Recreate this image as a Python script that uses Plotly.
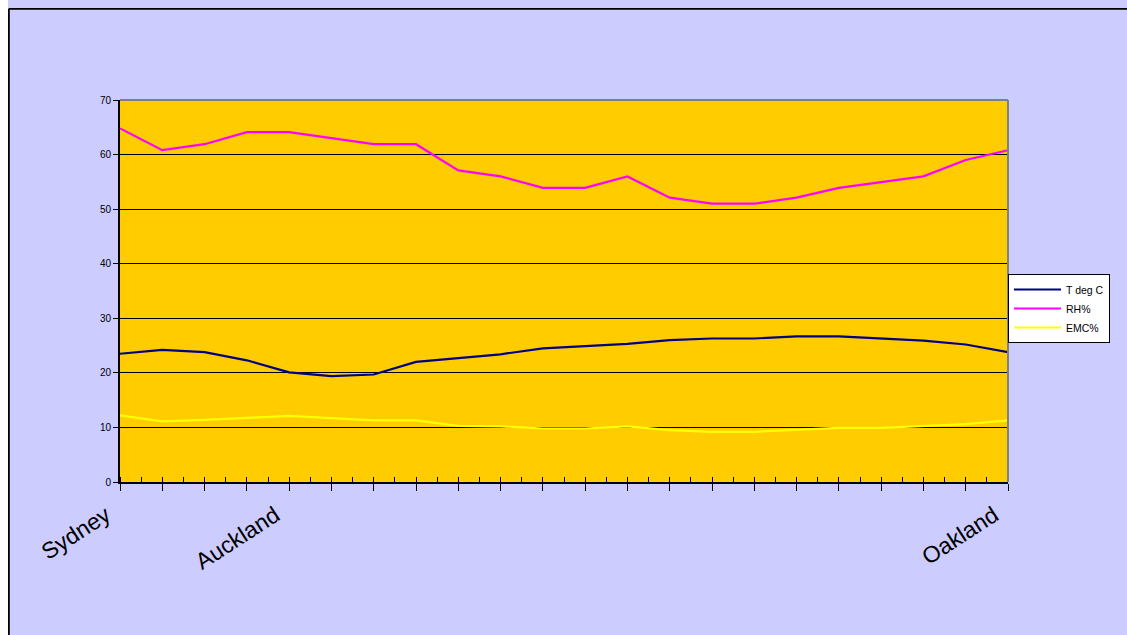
import plotly.graph_objects as go

# Data (22 stations along route)
labels = ["Sydney", "", "", "", "Auckland", "", "", "", "", "", "", "",
          "", "", "", "", "", "", "", "", "", "Oakland"]
t_deg_c = [23.5, 24.2, 23.8, 22.3, 20.1, 19.4, 19.7, 22.0, 22.7, 23.4, 24.5,
           24.9, 25.3, 26.0, 26.3, 26.3, 26.7, 26.7, 26.3, 25.9, 25.2, 23.8]
rh_pct = [64.8, 60.8, 61.9, 64.1, 64.1, 63.0, 61.9, 61.9, 57.1, 56.0, 53.9,
          53.9, 56.0, 52.1, 51.0, 51.0, 52.1, 53.9, 55.0, 56.0, 59.0, 60.8]
emc_pct = [12.2, 11.1, 11.4, 11.8, 12.1, 11.7, 11.3, 11.3, 10.3, 10.2, 9.8,
           9.8, 10.2, 9.5, 9.2, 9.2, 9.5, 9.9, 9.9, 10.2, 10.6, 11.3]
y_ticks = [0, 10, 20, 30, 40, 50, 60, 70]

x = list(range(len(labels)))

fig = go.Figure()
fig.add_trace(go.Scatter(x=x, y=t_deg_c, mode="lines", name="T deg C",
                         line=dict(color="#000080", width=2.2)))
fig.add_trace(go.Scatter(x=x, y=rh_pct, mode="lines", name="RH%",
                         line=dict(color="#FF00FF", width=2.2)))
fig.add_trace(go.Scatter(x=x, y=emc_pct, mode="lines", name="EMC%",
                         line=dict(color="#FFFF00", width=2.2)))

W, H = 1119, 627
L, R, T, B = 112, 119, 92, 153
pw, ph = W - L - R, H - T - B

def px_x(v):
    return (v - L) / pw

def px_y(v):
    return (H - B - v) / ph

shapes = [
    dict(type="line", xref="paper", yref="paper", layer="above",
         x0=px_x(0.8), x1=px_x(W + 5), y0=px_y(0.8), y1=px_y(0.8),
         line=dict(color="black", width=2)),
    dict(type="line", xref="paper", yref="paper", layer="above",
         x0=px_x(0.8), x1=px_x(0.8), y0=px_y(H + 5), y1=px_y(0.8),
         line=dict(color="black", width=2)),
    dict(type="line", xref="paper", yref="paper", x0=0, x1=1, y0=1, y1=1,
         line=dict(color="#808080", width=2)),
    dict(type="line", xref="paper", yref="paper", x0=1, x1=1, y0=0, y1=1,
         line=dict(color="#808080", width=2)),
]

fig.update_layout(
    width=W, height=H,
    margin=dict(l=L, r=R, t=T, b=B),
    paper_bgcolor="#CCCCFF",
    plot_bgcolor="#FFCC00",
    font=dict(family="Arial, Liberation Sans, sans-serif", color="black"),
    shapes=shapes,
    showlegend=True,
    legend=dict(x=1.0, xanchor="left", y=px_y(266), yanchor="top",
                bgcolor="white", bordercolor="black", borderwidth=1,
                itemwidth=47,
                font=dict(size=10.5, family="Arial, Liberation Sans, sans-serif"),
                tracegroupgap=0),
    xaxis=dict(range=[0, len(labels) - 1], tickmode="array", tickvals=x,
               ticktext=labels, tickangle=-33,
               tickfont=dict(size=23, family="Arial, Liberation Sans, sans-serif"),
               ticks="outside", ticklen=7, tickcolor="black", tickwidth=1,
               ticklabelshift=-14, ticklabelstandoff=2,
               showline=True, linecolor="black", linewidth=2,
               showgrid=False, zeroline=False,
               minor=dict(ticks="inside", ticklen=5, tickcolor="black",
                          tickwidth=1, dtick=0.5, tick0=0, showgrid=False)),
    yaxis=dict(range=[0, 70], tickmode="array", tickvals=y_ticks,
               tickfont=dict(size=10, family="Arial, Liberation Sans, sans-serif"),
               ticks="outside", ticklen=5, tickcolor="black",
               showline=True, linecolor="black", linewidth=2,
               showgrid=True, gridcolor="black", gridwidth=1,
               zeroline=False),
)

fig.write_html(
    "out.html",
    post_script=(
        "document.documentElement.style.overflow='hidden';"
        "document.body.style.overflow='hidden';"
        "document.body.style.margin='8px 0 0 8px';"
        "document.body.style.background='linear-gradient(to right, white 8px, #CCCCFF 8px)';"
    ),
)
